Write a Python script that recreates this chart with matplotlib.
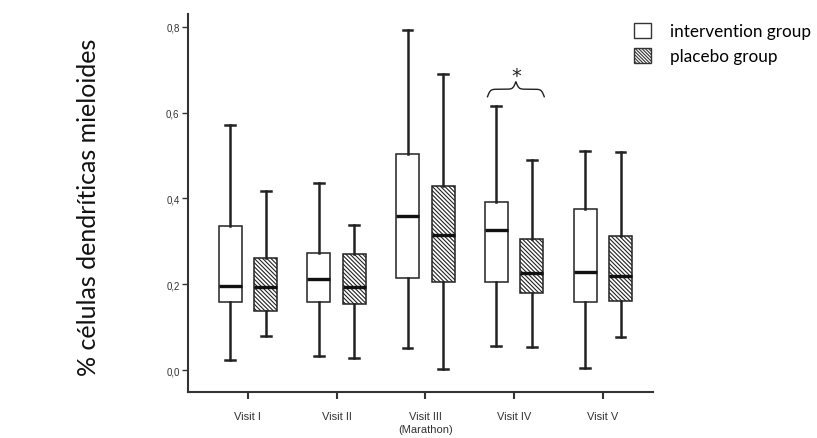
import numpy as np
import matplotlib

matplotlib.use("Agg")
import matplotlib.pyplot as plt
from matplotlib.patches import Patch

# box statistics (proportion of cells)
visits = ["Visit I", "Visit II", "Visit III\n(Marathon)", "Visit IV", "Visit V"]

int_whislo = [0.023, 0.033, 0.051, 0.057, 0.005]
int_q1 = [0.159, 0.159, 0.214, 0.205, 0.158]
int_med = [0.195, 0.211, 0.359, 0.327, 0.229]
int_q3 = [0.335, 0.272, 0.504, 0.391, 0.375]
int_whishi = [0.571, 0.435, 0.792, 0.615, 0.511]

pla_whislo = [0.080, 0.028, 0.002, 0.054, 0.078]
pla_q1 = [0.137, 0.154, 0.206, 0.179, 0.161]
pla_med = [0.193, 0.193, 0.315, 0.226, 0.219]
pla_q3 = [0.261, 0.271, 0.428, 0.306, 0.313]
pla_whishi = [0.417, 0.338, 0.690, 0.490, 0.508]

yticks = [0.0, 0.2, 0.4, 0.6, 0.8]
sig_visit = 3  # Visit IV


def _stats(lo, q1, med, q3, hi):
    return [dict(whislo=a, q1=b, med=c, q3=d, whishi=e, fliers=[])
            for a, b, c, d, e in zip(lo, q1, med, q3, hi)]


def _brace(ax, xa, xb, ybase, height, beta=40.0):
    # curly brace pointing up, from xa to xb
    t = np.linspace(0, 0.5, 120)
    half = 1 / (1 + np.exp(-beta * t)) + 1 / (1 + np.exp(-beta * (t - 0.5)))
    y = np.concatenate([half, half[-2::-1]]) - 0.5
    x = xa + (xb - xa) * np.linspace(0, 1, len(y))
    ax.plot(x, ybase + height * y, color="#222222", linewidth=1.0, clip_on=False)


plt.rcParams["hatch.linewidth"] = 0.8
plt.rcParams["hatch.color"] = "#333333"

fig = plt.figure(figsize=(8.17, 4.39), dpi=100)
fig.patch.set_facecolor("white")

ax = fig.add_axes([0.230, 0.105, 0.569, 0.861])

pos = np.arange(len(visits))
off = 0.20
w = 0.26
capw = 0.11

common = dict(widths=w, showfliers=False, patch_artist=True, capwidths=capw,
              whiskerprops=dict(color="#222222", linewidth=1.8),
              capprops=dict(color="#222222", linewidth=1.8),
              medianprops=dict(color="#111111", linewidth=2.4))

ax.bxp(_stats(int_whislo, int_q1, int_med, int_q3, int_whishi),
       positions=pos - off,
       boxprops=dict(facecolor="white", edgecolor="#222222", linewidth=1.1),
       **common)
ax.bxp(_stats(pla_whislo, pla_q1, pla_med, pla_q3, pla_whishi),
       positions=pos + off,
       boxprops=dict(facecolor="white", edgecolor="#222222", linewidth=1.1,
                     hatch="\\\\\\\\\\\\\\\\"),
       **common)

ax.set_xlim(-0.676, 4.563)
ax.set_ylim(-0.051, 0.830)
ax.set_yticks(yticks)
ax.set_yticklabels([f"{v:.1f}".replace(".", ",") for v in yticks],
                   fontsize=7, color="#333333", family="Liberation Sans")
ax.set_xticks(pos)
ax.set_xticklabels(visits, fontsize=8, color="#333333", family="Liberation Sans",
                   linespacing=1.35)
ax.tick_params(axis="x", length=5, width=1.5, color="#333333", pad=9)
ax.tick_params(axis="y", length=4, width=1.0, color="#333333", pad=2)
for s in ["top", "right"]:
    ax.spines[s].set_visible(False)
for s in ["left", "bottom"]:
    ax.spines[s].set_linewidth(1.5)
    ax.spines[s].set_color("#333333")

ax.set_ylabel("% células dendríticas mieloides", fontsize=18, family="Lato",
              color="#111111")
ax.yaxis.set_label_coords(-0.189, 0.49)

# significance brace over Visit IV
yb = int_whishi[sig_visit] + 0.022
_brace(ax, sig_visit - 0.30, sig_visit + 0.34, yb, 0.035)
ax.text(sig_visit + 0.03, yb + 0.05, "*", ha="center", va="center",
        fontsize=14, color="#222222", family="DejaVu Sans")

handles = [Patch(facecolor="white", edgecolor="#333333", linewidth=1.0),
           Patch(facecolor="white", edgecolor="#333333", linewidth=1.0,
                 hatch="\\\\\\\\\\\\\\\\\\\\")]
fig.legend(handles, ["intervention group", "placebo group"], loc="upper left",
           bbox_to_anchor=(0.757, 0.981), frameon=False, handlelength=1.0,
           handleheight=1.0, handletextpad=1.1, labelspacing=0.5,
           prop=dict(family="Lato", size=12.3))

fig.savefig("out.png", dpi=100)
